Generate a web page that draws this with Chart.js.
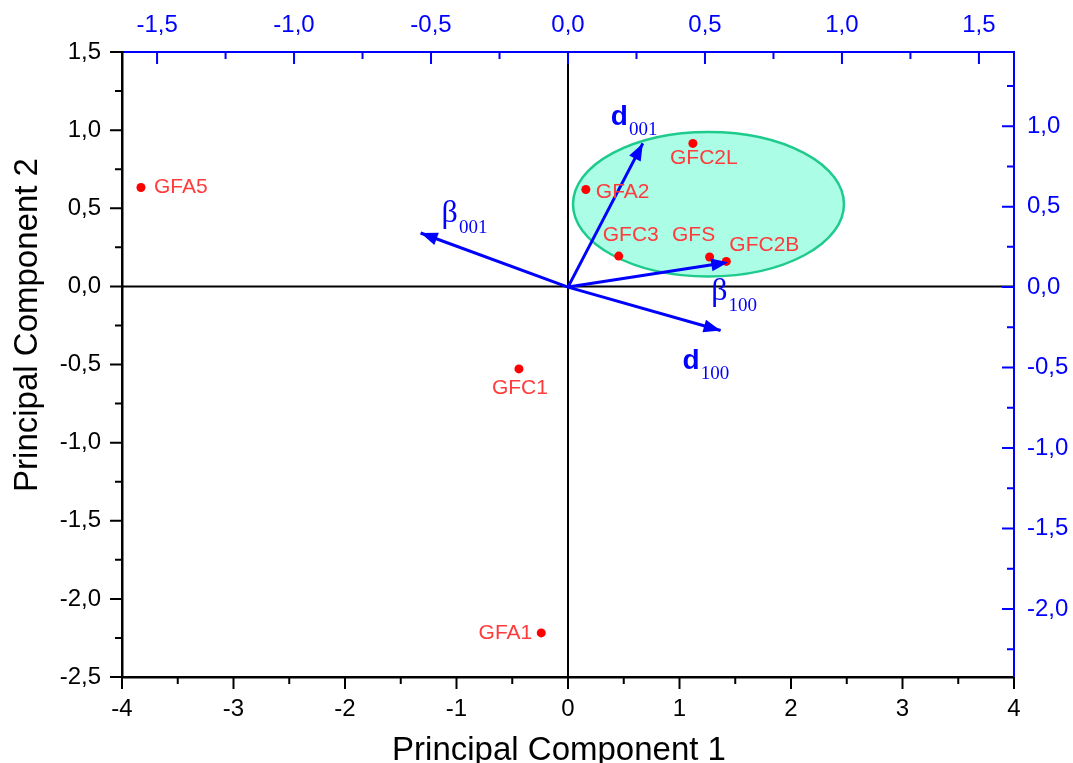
<!DOCTYPE html>
<html>
<head>
<meta charset="utf-8">
<script src="https://cdn.jsdelivr.net/npm/chart.js@4.4.1/dist/chart.umd.min.js"></script>
<style>
  html, body { margin: 0; padding: 0; background: #fff; }
  canvas { display: block; }
</style>
</head>
<body>
<canvas id="pcaChart" width="1073" height="763"></canvas>
<script>
// sample scores (bottom / left axes)
const samples = ["GFA5", "GFA2", "GFC2L", "GFC3", "GFS", "GFC2B", "GFC1", "GFA1"];
const pc1Scores = [-3.83, 0.16, 1.12, 0.455, 1.27, 1.42, -0.44, -0.24];
const pc2Scores = [0.633, 0.62, 0.915, 0.194, 0.188, 0.16, -0.528, -2.218];

// variable loadings (top / right axes)
const variables = ["d001", "β001", "β100", "d100"];
const loading1 = [0.273, -0.538, 0.585, 0.557];
const loading2 = [0.893, 0.336, 0.154, -0.27];

// cluster ellipse, centre and semi-axes in score units
const clusterCentre = [1.26, 0.526];
const clusterRadii = [1.215, 0.462];

// tick values
const pc1Ticks = [-4, -3, -2, -1, 0, 1, 2, 3, 4];
const pc2Ticks = [-2.5, -2, -1.5, -1, -0.5, 0, 0.5, 1, 1.5];
const load1Ticks = [-1.5, -1, -0.5, 0, 0.5, 1, 1.5];
const load2Ticks = [-2, -1.5, -1, -0.5, 0, 0.5, 1];

const SANS = "'Liberation Sans', Arial, sans-serif";
const SERIF = "'Liberation Serif', 'Times New Roman', serif";
const BLUE = "#0000ff";

// label offsets from the marker, in pixels: [dx, dy, align]
const sampleLabelPos = {
  GFA5: [13, 0, "left"],
  GFA2: [10, 3, "left"],
  GFC2L: [11, 15, "center"],
  GFC3: [12, -21, "center"],
  GFS: [-16, -22, "center"],
  GFC2B: [3, -16, "left"],
  GFC1: [1, 19, "center"],
  GFA1: [-9, 0, "right"]
};
// arrow label: offset of the main glyph (left, baseline) from the arrow tip
const variableLabelPos = {
  "d001": [-32, -18],
  "β001": [21, -11],
  "β100": [-17, 38],
  "d100": [-38, 38]
};

const comma = (v, d) => v.toFixed(d).replace(".", ",");

function setTicks(values) {
  return (scale) => { scale.ticks = values.map((v) => ({ value: v })); };
}

function minorValues(values, scale) {
  const step = values[1] - values[0];
  const out = [];
  for (let v = values[0] - step / 2; v <= values[values.length - 1] + step / 2 + 1e-9; v += step) {
    if (v >= scale.min - 1e-9 && v <= scale.max + 1e-9) out.push(v);
  }
  return out;
}

const biplotDecor = {
  id: "biplotDecor",
  beforeDatasetsDraw(chart) {
    const { ctx, chartArea: a, scales: { x, y } } = chart;
    ctx.save();
    // cluster ellipse
    const cx = x.getPixelForValue(clusterCentre[0]);
    const cy = y.getPixelForValue(clusterCentre[1]);
    const rx = x.getPixelForValue(clusterCentre[0] + clusterRadii[0]) - cx;
    const ry = cy - y.getPixelForValue(clusterCentre[1] + clusterRadii[1]);
    ctx.beginPath();
    ctx.ellipse(cx, cy, rx, ry, 0, 0, Math.PI * 2);
    ctx.fillStyle = "#abfde6";
    ctx.fill();
    ctx.lineWidth = 2.5;
    ctx.strokeStyle = "#1fcb8c";
    ctx.stroke();
    // zero lines
    const x0 = x.getPixelForValue(0);
    const y0 = y.getPixelForValue(0);
    ctx.beginPath();
    ctx.moveTo(x0, a.top);
    ctx.lineTo(x0, a.bottom);
    ctx.moveTo(a.left, y0);
    ctx.lineTo(a.right, y0);
    ctx.strokeStyle = "#000";
    ctx.lineWidth = 2;
    ctx.stroke();
    ctx.restore();
  },
  afterDatasetsDraw(chart) {
    const { ctx } = chart;
    ctx.save();
    // arrow heads
    variables.forEach((name, i) => {
      const pts = chart.getDatasetMeta(i + 1).data;
      const p0 = pts[0], p1 = pts[1];
      const ang = Math.atan2(p1.y - p0.y, p1.x - p0.x);
      const len = 17, half = 6.5;
      ctx.beginPath();
      ctx.moveTo(p1.x, p1.y);
      ctx.lineTo(p1.x - len * Math.cos(ang) + half * Math.sin(ang), p1.y - len * Math.sin(ang) - half * Math.cos(ang));
      ctx.lineTo(p1.x - len * Math.cos(ang) - half * Math.sin(ang), p1.y - len * Math.sin(ang) + half * Math.cos(ang));
      ctx.closePath();
      ctx.fillStyle = BLUE;
      ctx.fill();

      // label: main symbol plus subscript
      const [dx, dy] = variableLabelPos[name];
      const sym = name[0], sub = name.slice(1);
      const bx = p1.x + dx, by = p1.y + dy;
      ctx.textBaseline = "alphabetic";
      ctx.textAlign = "left";
      ctx.font = sym === "d" ? "bold 28px " + SANS : "32px " + SERIF;
      ctx.fillText(sym, bx, by);
      const w = ctx.measureText(sym).width;
      ctx.font = "19px " + SERIF;
      ctx.fillText(sub, bx + w + 1, by + (sym === "d" ? 10 : 11));
    });

    // sample names
    const pts = chart.getDatasetMeta(0).data;
    ctx.font = "21px " + SANS;
    ctx.fillStyle = "#ff3b3b";
    ctx.textBaseline = "middle";
    samples.forEach((name, i) => {
      const [dx, dy, align] = sampleLabelPos[name];
      ctx.textAlign = align;
      ctx.fillText(name, pts[i].x + dx, pts[i].y + dy);
    });
    ctx.restore();
  },
  afterDraw(chart) {
    const { ctx, chartArea: a, scales: { x, y, x2, y2 } } = chart;
    ctx.save();
    ctx.lineWidth = 2;
    const tickSet = (scale, values, minors, color, draw) => {
      ctx.strokeStyle = color;
      ctx.beginPath();
      values.forEach((v) => draw(scale.getPixelForValue(v), 12));
      minors.forEach((v) => draw(scale.getPixelForValue(v), 7));
      ctx.stroke();
    };
    // bottom and left: outward; top and right: inward
    tickSet(x, pc1Ticks, minorValues(pc1Ticks, x), "#000", (p, l) => { ctx.moveTo(p, a.bottom); ctx.lineTo(p, a.bottom + l); });
    tickSet(y, pc2Ticks, minorValues(pc2Ticks, y), "#000", (p, l) => { ctx.moveTo(a.left, p); ctx.lineTo(a.left - l, p); });
    tickSet(x2, load1Ticks, minorValues(load1Ticks, x2), BLUE, (p, l) => { ctx.moveTo(p, a.top); ctx.lineTo(p, a.top + l); });
    tickSet(y2, load2Ticks, minorValues(load2Ticks, y2), BLUE, (p, l) => { ctx.moveTo(a.right, p); ctx.lineTo(a.right - l, p); });

    // axis titles
    ctx.fillStyle = "#000";
    ctx.font = "33px " + SANS;
    ctx.textAlign = "center";
    ctx.textBaseline = "alphabetic";
    ctx.fillText("Principal Component 1", (a.left + a.right) / 2 - 9, 760);
    ctx.translate(37, 325);
    ctx.rotate(-Math.PI / 2);
    ctx.fillText("Principal Component 2", 0, 0);
    ctx.restore();
  }
};

const tickFont = { family: SANS, size: 24 };
const noGrid = { display: false, drawTicks: false };

new Chart(document.getElementById("pcaChart"), {
  type: "scatter",
  data: {
    datasets: [
      {
        label: "Scores",
        data: pc1Scores.map((v, i) => ({ x: v, y: pc2Scores[i] })),
        xAxisID: "x",
        yAxisID: "y",
        pointRadius: 4.5,
        pointBackgroundColor: "#ff0000",
        pointBorderWidth: 0
      },
      ...variables.map((name, i) => ({
        label: name,
        data: [{ x: 0, y: 0 }, { x: loading1[i], y: loading2[i] }],
        xAxisID: "x2",
        yAxisID: "y2",
        showLine: true,
        borderColor: BLUE,
        borderWidth: 3,
        pointRadius: 0
      }))
    ]
  },
  options: {
    responsive: false,
    animation: false,
    layout: { padding: 0 },
    plugins: { legend: { display: false }, tooltip: { enabled: false } },
    scales: {
      x: {
        type: "linear",
        position: "bottom",
        min: -4,
        max: 4,
        grid: noGrid,
        border: { color: "#000", width: 2.5 },
        afterBuildTicks: setTicks(pc1Ticks),
        afterFit: (s) => { s.height = 86; },
        ticks: { font: tickFont, color: "#000", padding: 18, maxRotation: 0, autoSkip: false, callback: (v) => String(v) }
      },
      x2: {
        type: "linear",
        position: "top",
        min: -1.628,
        max: 1.628,
        grid: noGrid,
        border: { color: BLUE, width: 2 },
        afterBuildTicks: setTicks(load1Ticks),
        afterFit: (s) => { s.height = 52; },
        ticks: { font: tickFont, color: BLUE, padding: 12, maxRotation: 0, autoSkip: false, callback: (v) => comma(v, 1) }
      },
      y: {
        type: "linear",
        position: "left",
        min: -2.5,
        max: 1.5,
        grid: noGrid,
        border: { color: "#000", width: 2.5 },
        afterBuildTicks: setTicks(pc2Ticks),
        afterFit: (s) => { s.width = 122; },
        ticks: { font: tickFont, color: "#000", padding: 21, autoSkip: false, callback: (v) => comma(v, 1) }
      },
      y2: {
        type: "linear",
        position: "right",
        min: -2.423,
        max: 1.461,
        grid: noGrid,
        border: { color: BLUE, width: 2 },
        afterBuildTicks: setTicks(load2Ticks),
        afterFit: (s) => { s.width = 59; },
        ticks: { font: tickFont, color: BLUE, padding: 13, autoSkip: false, callback: (v) => comma(v, 1) }
      }
    }
  },
  plugins: [biplotDecor]
});
</script>
</body>
</html>
